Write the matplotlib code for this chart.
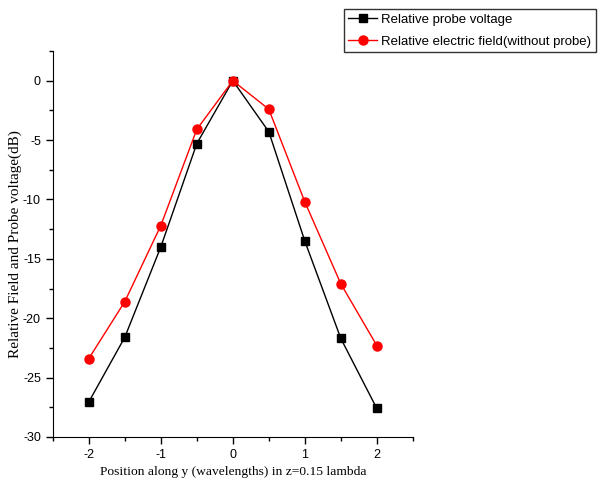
import matplotlib
matplotlib.use("Agg")
import matplotlib.pyplot as plt
from matplotlib.ticker import MultipleLocator

plt.rcParams["axes.unicode_minus"] = False

positions = [-2, -1.5, -1, -0.5, 0, 0.5, 1, 1.5, 2]
probe_voltage = [-27.05, -21.6, -14.0, -5.3, 0.0, -4.3, -13.5, -21.7, -27.6]
electric_field = [-23.4, -18.6, -12.2, -4.1, 0.0, -2.4, -10.2, -17.1, -22.3]

fig = plt.figure(figsize=(6, 4.94), dpi=100)
ax = fig.add_axes([0.088, 0.1154, 0.6, 0.7814])

ax.plot(positions, probe_voltage, color="black", lw=1, marker="s", ms=6,
        label="Relative probe voltage")
ax.plot(positions, electric_field, color="red", lw=1, marker="o", ms=6.5,
        label="Relative electric field(without probe)")

ax.set_xlim(-2.5, 2.5)
ax.set_ylim(-30, 2.5)
ax.xaxis.set_major_locator(MultipleLocator(1))
ax.xaxis.set_minor_locator(MultipleLocator(0.5))
ax.yaxis.set_major_locator(MultipleLocator(5))
ax.yaxis.set_minor_locator(MultipleLocator(2.5))
ax.spines["top"].set_visible(False)
ax.spines["right"].set_visible(False)
ax.tick_params(which="both", direction="out", width=1, labelsize=9)
ax.tick_params(which="major", length=5, pad=3.5)
ax.tick_params(which="minor", length=3)
for lab in ax.get_xticklabels() + ax.get_yticklabels():
    lab.set_family("Liberation Sans")

ax.set_xlabel("Position along y (wavelengths) in z=0.15 lambda", family="Liberation Serif",
              fontsize=9.7)
ax.xaxis.set_label_coords(0.5, -0.075)
ax.set_ylabel("Relative Field and Probe voltage(dB)", family="Liberation Serif",
              fontsize=11)
ax.yaxis.set_label_coords(-0.085, 0.5)

leg = fig.legend(loc="upper left", bbox_to_anchor=(0.573, 0.982), frameon=True, fancybox=False,
                 edgecolor="black", prop={"family": "Liberation Sans", "size": 9.5},
                 handlelength=2.2, handletextpad=0.3, borderpad=0.35, labelspacing=0.75,
                 borderaxespad=0)
leg.get_frame().set_linewidth(1)

fig.savefig("out.png", dpi=100)
